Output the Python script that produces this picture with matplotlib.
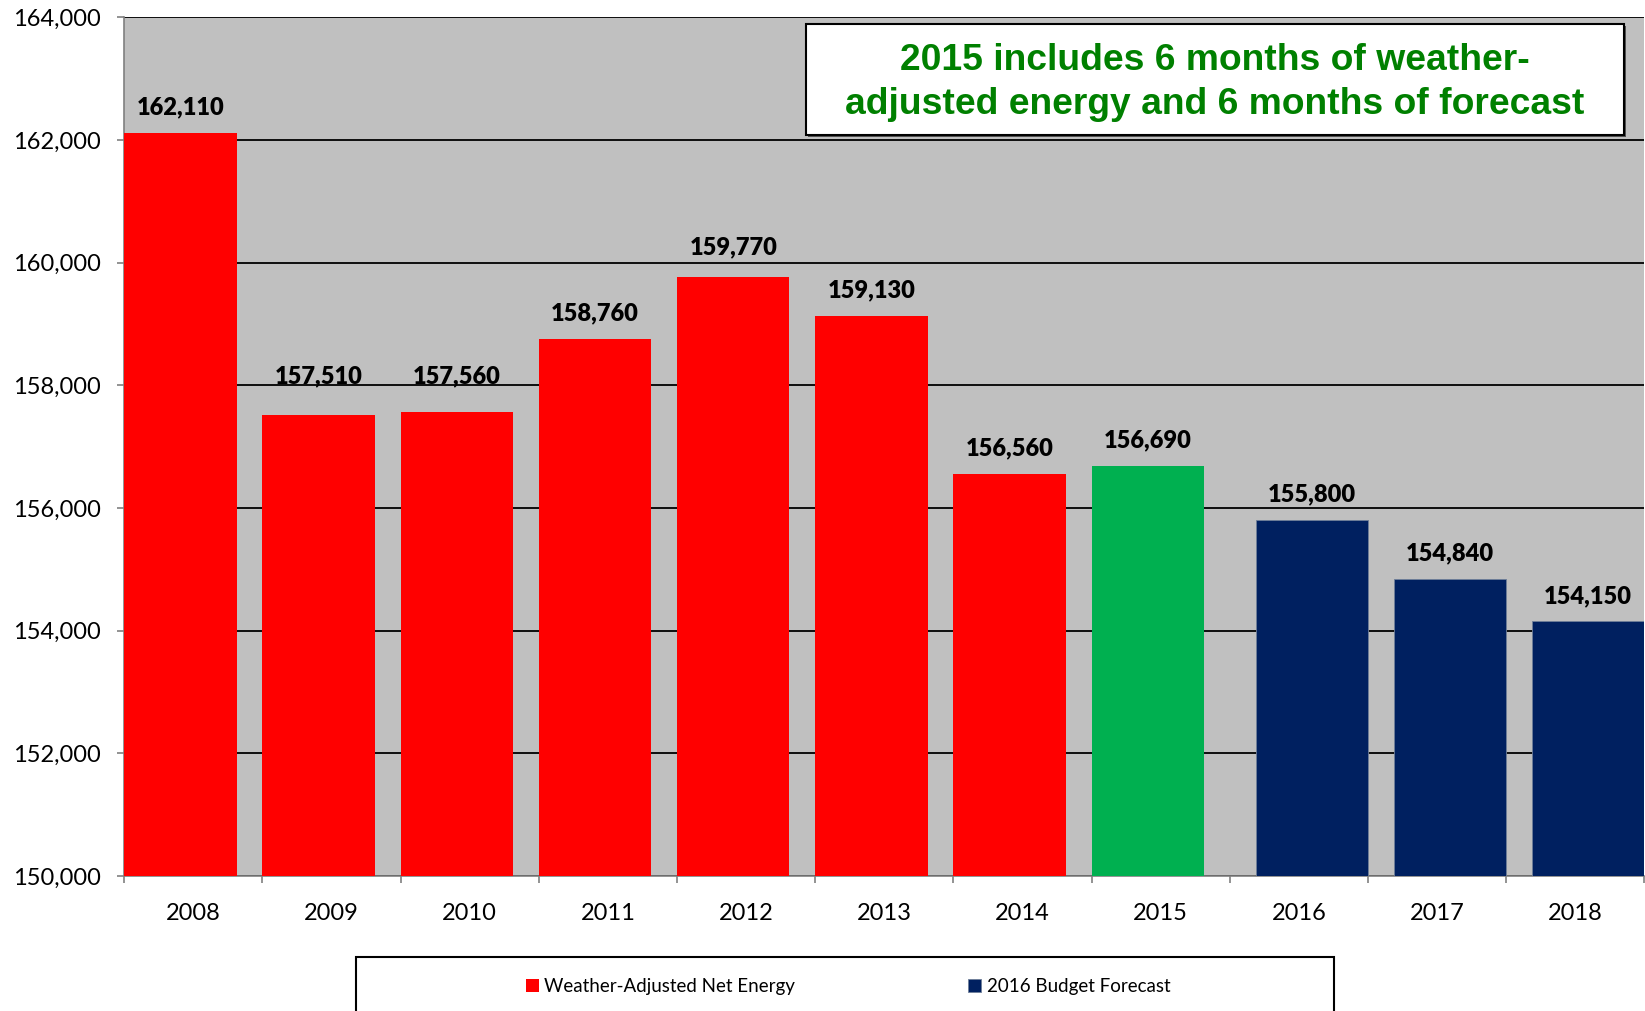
import matplotlib
matplotlib.use('Agg')
import matplotlib.pyplot as plt
from matplotlib.patches import Rectangle

# ---- data ----
years = ['2008', '2009', '2010', '2011', '2012', '2013', '2014', '2015', '2016', '2017', '2018']
actual_years = ['2008', '2009', '2010', '2011', '2012', '2013', '2014', '2015']
actual_values = [162110, 157510, 157560, 158760, 159770, 159130, 156560, 156690]
actual_colors = ['#FF0000', '#FF0000', '#FF0000', '#FF0000', '#FF0000', '#FF0000', '#FF0000', '#00B050']
forecast_years = ['2016', '2017', '2018']
forecast_values = [155800, 154840, 154150]
y_ticks = [150000, 152000, 154000, 156000, 158000, 160000, 162000, 164000]
series_names = ['Weather-Adjusted Net Energy', '2016 Budget Forecast']
note_text = '2015 includes 6 months of weather-\nadjusted energy and 6 months of forecast'

# label offsets above bar tops (points) - layout only
actual_label_offsets = [13.3, 22.8, 20.8, 13.3, 16.3, 13.3, 13.3, 13.3]
forecast_label_offsets = [13.3, 13.3, 13.3]

plt.rcParams['font.family'] = ['Lato', 'DejaVu Sans']

W, H = 1645, 1011
fig = plt.figure(figsize=(W / 100, H / 100), dpi=100)
ax = fig.add_axes([124.2 / W, 1 - 875.9 / H, (1644.4 - 124.2) / W, (875.9 - 17.3) / H])
ax.set_facecolor('#C0C0C0')

bw = 0.814
off = 0.5 - bw / 2
xa = [years.index(y) - off for y in actual_years]
xf = [years.index(y) + off for y in forecast_years]
b1 = ax.bar(xa, [v - 150000 for v in actual_values], bottom=150000, width=bw,
            color=actual_colors, label=series_names[0], zorder=3)
b2 = ax.bar(xf, [v - 150000 for v in forecast_values], bottom=150000, width=bw,
            color='#002060', edgecolor='#6F7F99', linewidth=0.6, label=series_names[1], zorder=3)

for x, v, o in (list(zip(xa, actual_values, actual_label_offsets)) +
                list(zip(xf, forecast_values, forecast_label_offsets))):
    ax.annotate(f'{v:,}', xy=(x, v), xytext=(0, o), textcoords='offset points',
                ha='center', va='baseline', fontsize=17, fontweight='heavy', color='black', zorder=5)

ax.set_xlim(-0.5, len(years) - 0.5)
ax.set_ylim(150000, 164000)
ax.set_yticks(y_ticks)
ax.set_yticklabels([f'{t:,}' for t in y_ticks])
ax.set_xticks(range(len(years)))
ax.set_xticklabels(years)
ax.set_xticks([i - 0.5 for i in range(len(years) + 1)], minor=True)

ax.grid(axis='y', color='black', linewidth=1.3, zorder=1)
ax.set_axisbelow(True)
for s in ['top', 'right']:
    ax.spines[s].set_visible(False)
for s in ['left', 'bottom']:
    ax.spines[s].set_color('#808080')
    ax.spines[s].set_linewidth(1.2)

ax.tick_params(axis='y', length=5, width=1.2, color='#808080', pad=12, labelsize=17)
ax.tick_params(axis='x', which='major', length=0, pad=19.5, labelsize=17)
ax.tick_params(axis='x', which='minor', length=5, width=1.2, color='#808080')

# note box (with a subtle shadow)
fig.patches.append(Rectangle((808 / W, 1 - 137 / H), (1624 - 806) / W, (135 - 24) / H,
                             transform=fig.transFigure, facecolor='#555555', edgecolor='none',
                             zorder=9))
fig.patches.append(Rectangle((806 / W, 1 - 135 / H), (1624 - 806) / W, (135 - 24) / H,
                             transform=fig.transFigure, facecolor='white', edgecolor='black',
                             linewidth=1.5, zorder=10))
fig.text(1215 / W, 1 - 82.5 / H, note_text, ha='center', va='center', fontsize=26.8,
         fontweight='bold', color='#008000', family=['Liberation Sans', 'DejaVu Sans'],
         linespacing=1.30, zorder=11)

# legend box
fig.patches.append(Rectangle((356 / W, -0.05), (1333.6 - 356) / W, 0.05 + 1 - 956.7 / H,
                             transform=fig.transFigure, facecolor='white', edgecolor='black',
                             linewidth=1.5, zorder=10))
leg = fig.legend(handles=[b1, b2], loc='center', bbox_to_anchor=(848 / W, 1 - 986.7 / H),
                 ncol=2, frameon=False, fontsize=13.5, handlelength=0.7, handleheight=0.7,
                 handletextpad=0.3, columnspacing=9.2)
leg.set_zorder(12)

fig.savefig('out.png', dpi=100)
